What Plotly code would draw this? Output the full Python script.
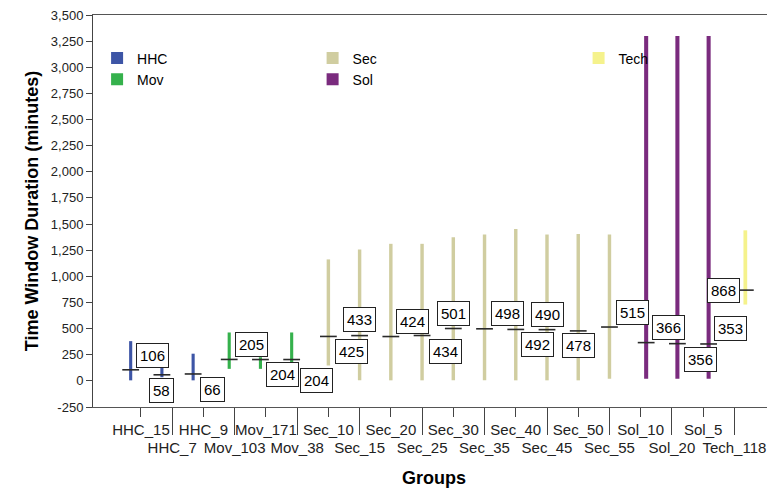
import plotly.graph_objects as go

# ---------------- data ----------------
categories = ["HHC_15", "HHC_7", "HHC_9", "Mov_103", "Mov_171", "Mov_38",
              "Sec_10", "Sec_15", "Sec_20", "Sec_25", "Sec_30", "Sec_35",
              "Sec_40", "Sec_45", "Sec_50", "Sec_55", "Sol_10", "Sol_20",
              "Sol_5", "Tech_118"]
group_names = ["HHC", "Mov", "Sec", "Sol", "Tech"]
medians = [106, 58, 66, 205, 204, 204, 425, 433, 424, 434, 501, 498,
           492, 490, 478, 515, 366, 356, 353, 868]
minimums = [5, 35, 5, 115, 115, 178, 147, 5, 5, 5, 5, 5,
            5, 5, 5, 20, 20, 20, 20, 730]
maximums = [380, 130, 260, 463, 226, 463, 1162, 1257, 1311, 1311, 1374, 1400,
            1453, 1400, 1405, 1400, 3300, 3300, 3300, 1440]
y_ticks = list(range(-250, 3501, 250))

# ---------------- styles ----------------
colors = {"HHC": "#3d55a6", "Mov": "#35b14c", "Sec": "#d0cda0",
          "Sol": "#7a2b7e", "Tech": "#f5f28c"}
cluster_offset = {"HHC": -0.33, "Mov": -0.175, "Sec": 0.0, "Sol": 0.175, "Tech": 0.35}
bar_width = {"HHC": 0.10, "Mov": 0.10, "Sec": 0.11, "Sol": 0.13, "Tech": 0.12}
legend_of = {"HHC": "legend", "Mov": "legend", "Sec": "legend2",
             "Sol": "legend2", "Tech": "legend3"}
# label box offsets in pixels (dx, dy up)
label_shift = [(22, 14), (0, -16), (19, -16), (22, 15), (22, -15), (25, -21),
               (23, -15), (0, 16), (22, 15), (23, -16), (0, 15), (23, 15),
               (22, -15), (0, 15), (0, -15), (23, 15), (22, 15), (23, -16),
               (22, 15), (-22, 0)]
FONT = "Liberation Sans, Arial, sans-serif"

groups = [c.split("_")[0] for c in categories]
xpos = [i + cluster_offset[g] for i, g in enumerate(groups)]

fig = go.Figure()
for g in group_names:
    idx = [i for i, gg in enumerate(groups) if gg == g]
    fig.add_trace(go.Bar(
        x=[xpos[i] for i in idx],
        base=[minimums[i] for i in idx],
        y=[maximums[i] - minimums[i] for i in idx],
        width=bar_width[g],
        marker=dict(color=colors[g], line=dict(width=0)),
        name=g, legend=legend_of[g],
    ))

# median ticks (drawn on the overlaying x axis, which shares the same range)
fig.add_trace(go.Scatter(
    x=xpos, y=medians, mode="markers", showlegend=False, xaxis="x2",
    marker=dict(symbol="line-ew", size=12, line=dict(width=1.6, color="#2a2a2a")),
))

for i, m in enumerate(medians):
    dx, dy = label_shift[i]
    fig.add_annotation(
        x=xpos[i], y=m, xref="x", yref="y", text=str(m), showarrow=False,
        xshift=dx, yshift=dy, font=dict(family=FONT, size=15, color="#000"),
        bgcolor="white", bordercolor="#222", borderwidth=1, borderpad=3,
    )

even = list(range(0, len(categories), 2))
odd = list(range(1, len(categories), 2))
xr = [-1.536, 20.30]

legend_style = dict(font=dict(family=FONT, size=14, color="#000"),
                    bgcolor="rgba(0,0,0,0)", itemwidth=30,
                    xanchor="left", yanchor="top", traceorder="normal")
fig.update_layout(
    width=767, height=484,
    margin=dict(l=85, r=0, t=5, b=85),
    paper_bgcolor="white", plot_bgcolor="white",
    barmode="overlay",
    font=dict(family=FONT, color="#000"),
    legend=dict(x=0.006, y=0.93, **legend_style),
    legend2=dict(x=0.322, y=0.93, **legend_style),
    legend3=dict(x=0.712, y=0.93, **legend_style),
    xaxis=dict(range=xr, tickmode="array", tickvals=even,
               ticktext=[categories[i] for i in even],
               ticks="outside", ticklen=9, tickcolor="#444", tickwidth=1,
               showline=True, linecolor="#444", linewidth=1, mirror=True,
               showgrid=False, zeroline=False,
               tickfont=dict(family=FONT, size=15, color="#222"),
               title=dict(text="<b>Groups</b>", font=dict(family=FONT, size=18),
                          standoff=34)),
    xaxis2=dict(range=xr, overlaying="x", anchor="y", side="bottom",
                tickmode="array", tickvals=odd,
                ticktext=[categories[i] for i in odd],
                ticks="outside", ticklen=27, tickcolor="#444", tickwidth=1,
                showline=True, linecolor="#555", linewidth=1, mirror=True,
                showgrid=False, zeroline=False,
                tickfont=dict(family=FONT, size=15, color="#222")),
    yaxis=dict(range=[-250, 3500], tickmode="array", tickvals=y_ticks,
               ticktext=[f"{v:,}" for v in y_ticks],
               ticks="outside", ticklen=6, tickcolor="#444",
               ticklabeloverflow="allow",
               showline=True, linecolor="#444", linewidth=1,
               showgrid=False, zeroline=False,
               tickfont=dict(family=FONT, size=13, color="#222"),
               title=dict(text="<b>Time Window Duration (minutes)</b>",
                          font=dict(family=FONT, size=18), standoff=7)),
)
fig.write_html("out.html")
